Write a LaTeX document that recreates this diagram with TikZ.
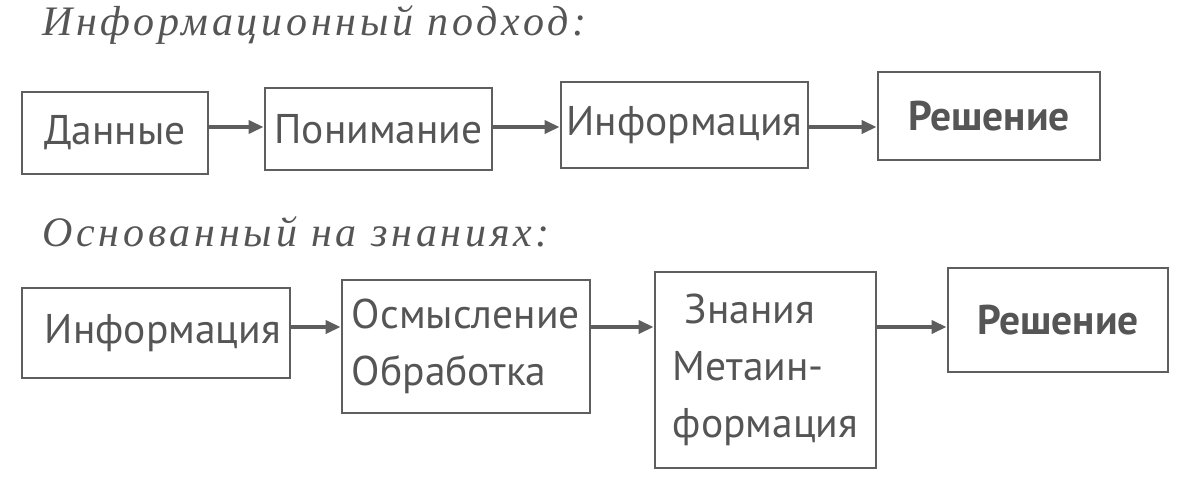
\documentclass[tikz,border=0pt]{standalone}
\usepackage{fontspec}
\setmainfont{PT Sans}
\newfontfamily\titlefont[LetterSpace=9]{Liberation Serif}
\usetikzlibrary{arrows.meta,calc}
\definecolor{ink}{HTML}{555555}
\definecolor{linec}{HTML}{5E5E5E}
\begin{document}
\begin{tikzpicture}[x=1pt,y=-1pt,
  box/.style={draw=linec,line width=2.8pt,minimum width=#1,inner sep=0pt,text=ink,font=\fontsize{41.5}{57}\selectfont},
  arr/.style={draw=linec,line width=3.5pt,-{Triangle[length=15pt,width=13pt]}},
  ttl/.style={anchor=base west,text=ink,inner sep=0pt,font=\titlefont\itshape\fontsize{42}{48}\selectfont}]
\useasboundingbox (0,0) rectangle (1191,503);
\node[ttl] (t1) at (42,36) {Информационный подход:};
\node[ttl] (t2) at (42,246) {Основанный на знаниях:};
% row 1
\node[box=186pt,minimum height=82pt] (A) at (115,133) {Данные};
\node[box=227pt,minimum height=82pt] (B) at (378.5,129) {Понимание};
\node[box=247pt,minimum height=86pt] (C) at (684.5,125) {Информация};
\node[box=222pt,minimum height=88pt] (D) at (989,116) {\bfseries Решение};
\coordinate (r1) at (0,127);
\draw[arr] (A.east |- r1) -- (B.west |- r1);
\draw[arr] (B.east |- r1) -- (C.west |- r1);
\draw[arr] (C.east |- r1) -- (D.west |- r1);
% row 2
\node[box=268pt,minimum height=90pt,text width=250pt,align=right] (E) at (156,333) {Информация};
\node[box=248pt,minimum height=133pt,align=left] (F) at (466,346.5) {Осмысление\\Обработка};
\node[box=221pt,minimum height=196pt,align=left] (G) at (765.5,370) {\hspace{12pt}Знания\\Метаин-\\формация};
\node[box=220pt,minimum height=104pt] (H) at (1058,320) {\bfseries Решение};
\coordinate (r2) at (0,327);
\draw[arr] (E.east |- r2) -- (F.west |- r2);
\draw[arr] (F.east |- r2) -- (G.west |- r2);
\draw[arr] (G.east |- r2) -- (H.west |- r2);
\end{tikzpicture}
\end{document}
